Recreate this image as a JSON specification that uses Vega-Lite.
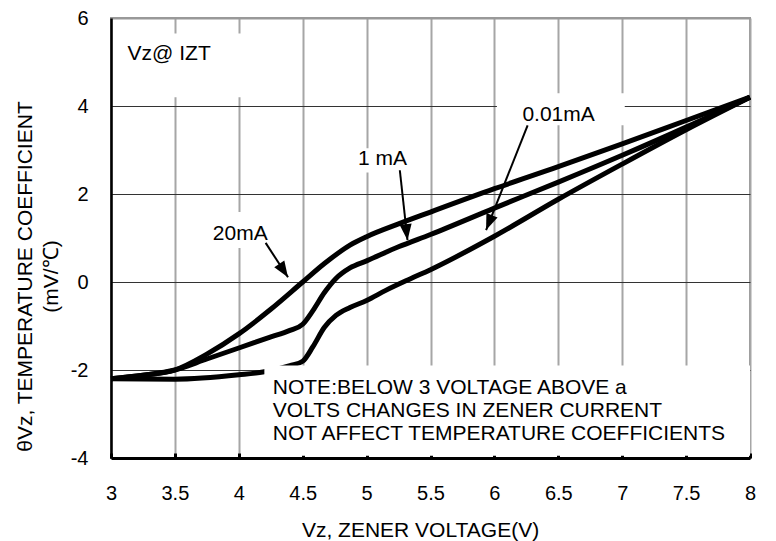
{
  "$schema": "https://vega.github.io/schema/vega-lite/v6.json",
  "width": 639,
  "height": 440,
  "autosize": "none",
  "padding": {"left": 111, "top": 18, "right": 26, "bottom": 83},
  "background": "white",
  "config": {
    "view": {"stroke": "#999999", "strokeWidth": 2},
    "font": "Liberation Sans",
    "axis": {"labelFont": "Liberation Sans", "titleFont": "Liberation Sans", "labelColor": "black", "titleColor": "black", "titleFontWeight": "normal"}
  },
  "datasets": {
    "curves": [
      {"series": "20mA", "x": 3.0, "y": -2.2},
      {"series": "20mA", "x": 3.25, "y": -2.12},
      {"series": "20mA", "x": 3.5, "y": -2.0},
      {"series": "20mA", "x": 3.75, "y": -1.64},
      {"series": "20mA", "x": 4.0, "y": -1.18},
      {"series": "20mA", "x": 4.25, "y": -0.62},
      {"series": "20mA", "x": 4.5, "y": 0.0},
      {"series": "20mA", "x": 4.67, "y": 0.42},
      {"series": "20mA", "x": 4.87, "y": 0.84},
      {"series": "20mA", "x": 5.0, "y": 1.03},
      {"series": "20mA", "x": 5.25, "y": 1.32},
      {"series": "20mA", "x": 5.5, "y": 1.59},
      {"series": "20mA", "x": 6.0, "y": 2.12},
      {"series": "20mA", "x": 6.5, "y": 2.62},
      {"series": "20mA", "x": 7.0, "y": 3.14},
      {"series": "20mA", "x": 7.5, "y": 3.67},
      {"series": "20mA", "x": 8.0, "y": 4.2},
      {"series": "1mA", "x": 3.0, "y": -2.2},
      {"series": "1mA", "x": 3.25, "y": -2.12},
      {"series": "1mA", "x": 3.5, "y": -2.0},
      {"series": "1mA", "x": 3.75, "y": -1.75},
      {"series": "1mA", "x": 4.0, "y": -1.5},
      {"series": "1mA", "x": 4.24, "y": -1.26},
      {"series": "1mA", "x": 4.4, "y": -1.1},
      {"series": "1mA", "x": 4.5, "y": -0.96},
      {"series": "1mA", "x": 4.58, "y": -0.65},
      {"series": "1mA", "x": 4.67, "y": -0.24},
      {"series": "1mA", "x": 4.76, "y": 0.08},
      {"series": "1mA", "x": 4.87, "y": 0.32},
      {"series": "1mA", "x": 5.0, "y": 0.48},
      {"series": "1mA", "x": 5.25, "y": 0.8},
      {"series": "1mA", "x": 5.5, "y": 1.08},
      {"series": "1mA", "x": 6.0, "y": 1.68},
      {"series": "1mA", "x": 6.5, "y": 2.27},
      {"series": "1mA", "x": 7.0, "y": 2.88},
      {"series": "1mA", "x": 7.5, "y": 3.52},
      {"series": "1mA", "x": 8.0, "y": 4.2},
      {"series": "0.01mA", "x": 3.0, "y": -2.2},
      {"series": "0.01mA", "x": 3.5, "y": -2.21},
      {"series": "0.01mA", "x": 4.0, "y": -2.11},
      {"series": "0.01mA", "x": 4.2, "y": -2.04},
      {"series": "0.01mA", "x": 4.4, "y": -1.9},
      {"series": "0.01mA", "x": 4.5, "y": -1.8},
      {"series": "0.01mA", "x": 4.58, "y": -1.47},
      {"series": "0.01mA", "x": 4.67, "y": -1.03},
      {"series": "0.01mA", "x": 4.76, "y": -0.76},
      {"series": "0.01mA", "x": 4.87, "y": -0.58},
      {"series": "0.01mA", "x": 5.0, "y": -0.42},
      {"series": "0.01mA", "x": 5.15, "y": -0.19},
      {"series": "0.01mA", "x": 5.34, "y": 0.07},
      {"series": "0.01mA", "x": 5.5, "y": 0.28},
      {"series": "0.01mA", "x": 6.0, "y": 1.04},
      {"series": "0.01mA", "x": 6.5, "y": 1.88},
      {"series": "0.01mA", "x": 7.0, "y": 2.68},
      {"series": "0.01mA", "x": 7.5, "y": 3.46},
      {"series": "0.01mA", "x": 8.0, "y": 4.2}
    ],
    "boxes": [
      {"kind": "label", "x": 3.02, "x2": 4.15, "y": 4.2, "y2": 5.65},
      {"kind": "label", "x": 3.73, "x2": 4.28, "y": 0.77, "y2": 1.59},
      {"kind": "label", "x": 4.87, "x2": 5.37, "y": 2.49, "y2": 3.04},
      {"kind": "label", "x": 6.02, "x2": 7.02, "y": 3.56, "y2": 4.29},
      {"kind": "note", "x": 4.2, "x2": 8.0, "y": -3.95, "y2": -1.9}
    ],
    "labels": [
      {"t": "Vz@ IZT", "x": 3.13, "y": 5.05},
      {"t": "20mA", "x": 3.797, "y": 0.952},
      {"t": "1 mA", "x": 4.932, "y": 2.65},
      {"t": "0.01mA", "x": 6.219, "y": 3.67},
      {"t": "NOTE:BELOW 3 VOLTAGE ABOVE a\nVOLTS CHANGES IN ZENER CURRENT\nNOT AFFECT TEMPERATURE COEFFICIENTS", "x": 4.266, "y": -2.54}
    ],
    "arrows": [
      {"label": "20mA", "x": 4.21, "y": 0.89, "x2": 4.385, "y2": 0.107},
      {"label": "1mA", "x": 5.26, "y": 2.54, "x2": 5.32, "y2": 0.95},
      {"label": "0.01mA", "x": 6.26, "y": 3.56, "x2": 5.935, "y2": 1.18}
    ]
  },
  "encoding": {
    "x": {
      "field": "x", "type": "quantitative",
      "scale": {"domain": [3, 8], "nice": false, "zero": false},
      "axis": {
        "title": "Vz, ZENER VOLTAGE(V)",
        "values": [3, 3.5, 4, 4.5, 5, 5.5, 6, 6.5, 7, 7.5, 8],
        "format": "~g",
        "labelFontSize": 20,
        "labelPadding": 30,
        "labelFlush": false,
        "labelOverlap": false,
        "tickSize": -5,
        "tickWidth": 3,
        "tickColor": "black",
        "domainColor": "black",
        "domainWidth": 3,
        "grid": true,
        "gridColor": "#a6a6a6",
        "gridWidth": 2,
        "titleFontSize": 21,
        "titleX": 309,
        "titleY": 78.7,
        "titleBaseline": "alphabetic",
        "titleAlign": "center"
      }
    },
    "y": {
      "field": "y", "type": "quantitative",
      "scale": {"domain": [-4, 6], "nice": false, "zero": false},
      "axis": {
        "title": ["θVz, TEMPERATURE COEFFICIENT", "(mV/℃)"],
        "values": [-4, -2, 0, 2, 4, 6],
        "labelExpr": "'' + datum.value",
        "labelFontSize": 20,
        "labelPadding": 23,
        "ticks": false,
        "domainColor": "black",
        "domainWidth": 2.5,
        "grid": true,
        "gridColor": {"condition": {"test": "datum.value == 6", "value": "#999999"}, "value": "#333333"},
        "gridWidth": {"condition": {"test": "datum.value == 6", "value": 2}, "value": 1},
        "titleFontSize": 21,
        "titleAngle": -90,
        "titleX": -85.5,
        "titleY": 258,
        "titleAlign": "center",
        "titleBaseline": "middle",
        "titleLineHeight": 25.5
      }
    }
  },
  "layer": [
    {
      "data": {"name": "boxes"},
      "transform": [{"filter": "datum.kind === 'label'"}],
      "mark": {"type": "rect", "fill": "white", "strokeWidth": 0},
      "encoding": {"x2": {"field": "x2"}, "y2": {"field": "y2"}}
    },
    {
      "data": {"name": "curves"},
      "mark": {"type": "line", "interpolate": "monotone", "strokeWidth": 5, "color": "black"},
      "encoding": {"detail": {"field": "series"}}
    },
    {
      "data": {"name": "boxes"},
      "transform": [{"filter": "datum.kind === 'note'"}],
      "mark": {"type": "rect", "fill": "white", "strokeWidth": 0},
      "encoding": {"x2": {"field": "x2"}, "y2": {"field": "y2"}}
    },
    {
      "data": {"name": "labels"},
      "mark": {"type": "text", "align": "left", "baseline": "alphabetic", "fontSize": 21, "font": "Liberation Sans", "lineBreak": "\n", "lineHeight": 23, "color": "black"},
      "encoding": {"text": {"field": "t"}}
    },
    {
      "data": {"name": "arrows"},
      "mark": {"type": "rule", "strokeWidth": 2, "color": "black"},
      "encoding": {"x2": {"field": "x2"}, "y2": {"field": "y2"}}
    },
    {
      "data": {"name": "arrows"},
      "transform": [{"filter": "datum.label === '20mA'"}],
      "mark": {"type": "point", "shape": "M0,0L-0.75,-2L0.75,-2Z", "size": 256, "filled": true, "color": "black", "opacity": 1, "angle": 327},
      "encoding": {"x": {"field": "x2", "type": "quantitative"}, "y": {"field": "y2", "type": "quantitative"}}
    },
    {
      "data": {"name": "arrows"},
      "transform": [{"filter": "datum.label === '1mA'"}],
      "mark": {"type": "point", "shape": "M0,0L-0.75,-2L0.75,-2Z", "size": 256, "filled": true, "color": "black", "opacity": 1, "angle": 353.4},
      "encoding": {"x": {"field": "x2", "type": "quantitative"}, "y": {"field": "y2", "type": "quantitative"}}
    },
    {
      "data": {"name": "arrows"},
      "transform": [{"filter": "datum.label === '0.01mA'"}],
      "mark": {"type": "point", "shape": "M0,0L-0.75,-2L0.75,-2Z", "size": 256, "filled": true, "color": "black", "opacity": 1, "angle": 21.6},
      "encoding": {"x": {"field": "x2", "type": "quantitative"}, "y": {"field": "y2", "type": "quantitative"}}
    }
  ]
}
